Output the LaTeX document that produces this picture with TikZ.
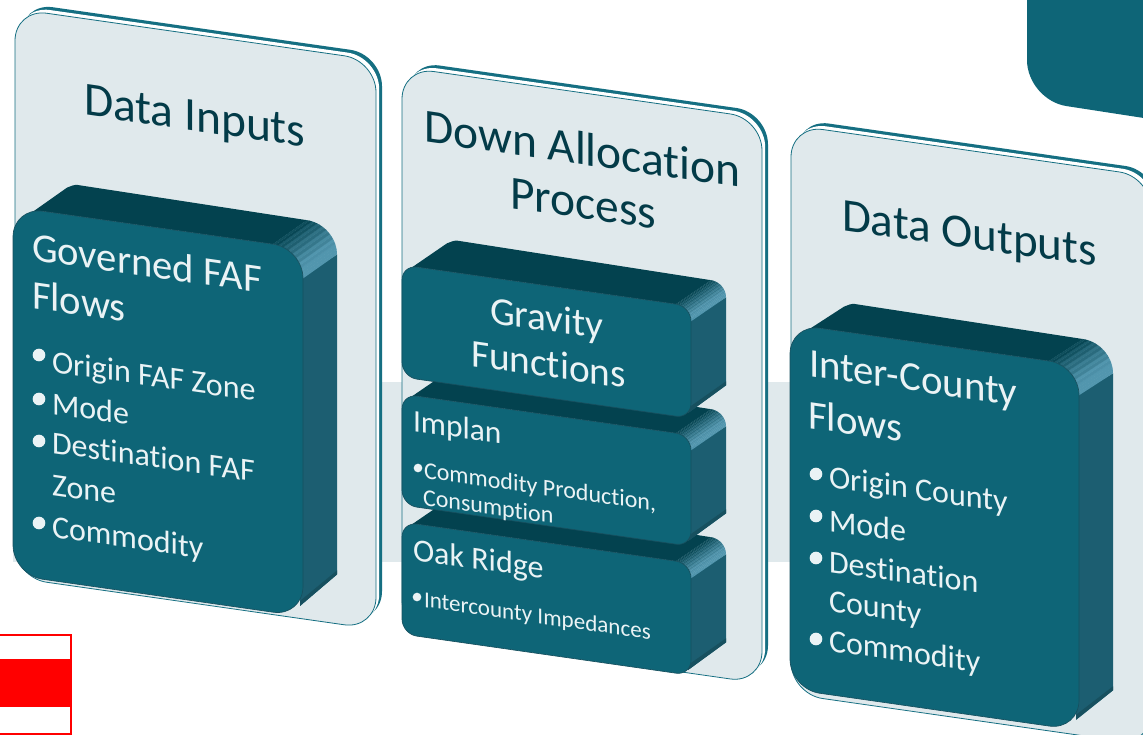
\documentclass[tikz,border=0pt]{standalone}
\usepackage{fontspec}
\setmainfont[Ligatures={NoCommon}]{Carlito}
\definecolor{front}{HTML}{0E6577}
\definecolor{topc}{HTML}{03424F}
\definecolor{sidec}{HTML}{1C5E71}
\definecolor{hl}{HTML}{5296AE}
\definecolor{lowc}{HTML}{17505F}
\definecolor{panelc}{HTML}{E0E9EC}
\definecolor{edgec}{HTML}{156F82}
\definecolor{inkc}{HTML}{033B48}
\definecolor{paper}{HTML}{EAF3F5}
\newcommand{\slopeS}{0.143}
% panel: L, T, R, H, r
\newcommand{\panelbox}[5]{%
  \pgfmathsetmacro\pTR{#2+\slopeS*(#3-#1)}%
  \pgfmathsetmacro\pBR{\pTR+#4}%
  \pgfmathsetmacro\pBL{#2+#4}%
  \pgfmathsetmacro\pRad{0.75*#5}%
  \fill[edgec,rounded corners=\pRad pt,shift={(6,-6)}] (#1,#2) -- (#3,\pTR) -- (#3,\pBR) -- (#1,\pBL) -- cycle;
  \fill[white,rounded corners=\pRad pt,shift={(3.2,-3.2)}] (#1,#2) -- (#3,\pTR) -- (#3,\pBR) -- (#1,\pBL) -- cycle;
  \draw[edgec,line width=0.6pt,fill=panelc,rounded corners=\pRad pt] (#1,#2) -- (#3,\pTR) -- (#3,\pBR) -- (#1,\pBL) -- cycle;
}
% card: L, T, R, H, dx, dy, r
\newcommand{\cardbox}[7]{%
  \pgfmathsetmacro\cTR{#2+\slopeS*(#3-#1)}%
  \pgfmathsetmacro\cBR{\cTR+#4}%
  \pgfmathsetmacro\cBL{#2+#4}%
  \pgfmathsetmacro\cRad{0.75*#7}%
  \pgfmathsetmacro\cPx{#1+0.67*#7}%
  \pgfmathsetmacro\cPy{#2+0.67*#7*\slopeS+0.057*#7}%
  \pgfmathsetmacro\cQx{#1+#7}%
  \pgfmathsetmacro\cQy{#2+#7*\slopeS}%
  \pgfmathsetmacro\cEx{#3-#7}%
  \pgfmathsetmacro\cEy{\cTR-#7*\slopeS}%
  \pgfmathsetmacro\cCy{\cEy+#7}%
  \pgfmathsetmacro\cRy{\cTR+#7}%
  \pgfmathsetmacro\cLowA{\cBR+#6-0.6*#7}%
  \pgfmathsetmacro\cLowB{\cBR-0.35*#7}%
  % right face
  \fill[sidec] (#3-3,\cRy) -- (#3+#5,\cRy+#6) -- (#3+#5,\cLowA) -- (#3-3,\cLowB) -- cycle;
  \fill[lowc] (#3+#5,\cLowA-4) -- (#3+#5,\cLowA) -- (#3-3,\cLowB) -- (#3-3,\cLowB-5) -- cycle;
  % top face
  \fill[topc] (\cQx,\cQy) -- (\cPx,\cPy) -- (\cPx+#5,\cPy+#6) [rounded corners=2pt] -- (\cPx+#5+8,\cPy+#6-3) [sharp corners] -- (\cEx+#5,\cEy+#6) -- (\cEx,\cEy) -- cycle;
  % corner bands
  \foreach \i in {0,...,17}{%
    \pgfmathsetmacro\tA{\i*5}%
    \pgfmathsetmacro\tB{\i*5+5.6}%
    \pgfmathsetmacro\ax{\cEx+#7*cos(\tA)}%
    \pgfmathsetmacro\ay{\cCy+#7*cos(\tA)*\slopeS-#7*sin(\tA)}%
    \pgfmathsetmacro\bx{\cEx+#7*cos(\tB)}%
    \pgfmathsetmacro\by{\cCy+#7*cos(\tB)*\slopeS-#7*sin(\tB)}%
    \pgfmathsetmacro\mixv{min(100,max(0,(90-\tA)/70*100+(mod(\i,2)-0.5)*16))}%
    \fill[hl!\mixv!topc] (\ax,\ay) -- (\bx,\by) -- (\bx+#5,\by+#6) -- (\ax+#5,\ay+#6) -- cycle;
  }
  % front face
  \draw[lowc,line width=0.5pt,fill=front,rounded corners=\cRad pt] (#1,#2) -- (#3,\cTR) -- (#3,\cBR) -- (#1,\cBL) -- cycle;
}
\tikzset{
  lab/.style={anchor=base west,inner sep=0pt,outer sep=0pt,yslant=-0.143},
  ink/.style={lab,text=inkc},
  wht/.style={lab,text=paper},
  dotmark/.style={circle,fill=paper,inner sep=0pt,minimum size=#1},
  dotmark/.default=9.5
}
\newcommand{\fpx}[1]{\fontsize{#1}{#1}\selectfont}
\begin{document}
\begin{tikzpicture}[x=0.75pt,y=-0.75pt]
\useasboundingbox (0,0) rectangle (1143,735);
\clip (0,0) rectangle (1143,735);
\fill[white] (0,0) rectangle (1143,735);
\fill[panelc] (13,382) rectangle (1143,562);
% top-right fragment
\fill[front] (1027,-20) [rounded corners=30pt] -- (1027,100) [sharp corners] -- (1160,120.5) -- (1160,-20) -- cycle;
% panels
\panelbox{15}{8.7}{376}{569}{32}
\panelbox{402}{67}{762}{565}{32}
\panelbox{791}{125}{1151}{569}{32}
% cards
\cardbox{13}{207}{303}{368}{34}{-24}{30}
\cardbox{402}{522}{691}{112}{35}{-24}{15}
\cardbox{402}{394}{691}{111}{35}{-24}{15}
\cardbox{402}{265}{691}{112}{35}{-24}{15}
\cardbox{790}{324}{1079}{365}{34}{-22}{30}
% red box
\draw[red,line width=1.5pt,fill=white] (-5,634.5) rectangle (71,733.5);
\fill[red] (-5,659) rectangle (71,707);
% headings
\node[ink,font=\fpx{35.6}] (t1) at (84,115) {Data Inputs};
\node[ink,font=\fpx{35.6}] (t2) at (424,142) {Down Allocation};
\node[ink,font=\fpx{35.6}] (t3) at (510,208) {Process};
\node[ink,font=\fpx{35.3}] (t4) at (842,230) {Data Outputs};
% card 1
\node[wht,font=\fpx{30.5}] (a0) at (32,260) {Governed FAF};
\node[wht,font=\fpx{30.5}] (a1) at (32,308) {Flows};
\node[wht,font=\fpx{24}] (a2) at (52,372) {Origin FAF Zone};
\node[wht,font=\fpx{24}] (a3) at (52,414) {Mode};
\node[wht,font=\fpx{24}] (a4) at (52,453) {Destination FAF};
\node[wht,font=\fpx{24}] (a5) at (52,495) {Zone};
\node[wht,font=\fpx{24}] (a6) at (52,537) {Commodity};
\node[dotmark] (ad1) at (39,355) {};
\node[dotmark] (ad2) at (39,399) {};
\node[dotmark] (ad3) at (39,441) {};
\node[dotmark] (ad4) at (39,523) {};
% middle cards
\node[wht,font=\fpx{29.5}] (b0) at (490,323) {Gravity};
\node[wht,font=\fpx{29.5}] (b1) at (471,366) {Functions};
\node[wht,font=\fpx{23.6}] (b2) at (413,431) {Implan};
\node[wht,font=\fpx{18}] (b3) at (424,478) {Commodity Production,};
\node[wht,font=\fpx{18}] (b4) at (423,505) {Consumption};
\node[dotmark=6.5] (bd1) at (418,468) {};
\node[wht,font=\fpx{24}] (b5) at (413,560) {Oak Ridge};
\node[wht,font=\fpx{17.3}] (b6) at (424,607) {Intercounty Impedances};
\node[dotmark=6.5] (bd2) at (417,597) {};
% card 3
\node[wht,font=\fpx{30.6}] (c0) at (809,376) {Inter-County};
\node[wht,font=\fpx{30.6}] (c1) at (808,428) {Flows};
\node[wht,font=\fpx{24}] (c2) at (829,487) {Origin County};
\node[wht,font=\fpx{24}] (c3) at (829,531) {Mode};
\node[wht,font=\fpx{24}] (c4) at (829,572) {Destination};
\node[wht,font=\fpx{24}] (c5) at (829,611) {County};
\node[wht,font=\fpx{24}] (c6) at (829,651) {Commodity};
\node[dotmark] (cd1) at (816,474) {};
\node[dotmark] (cd2) at (816,516) {};
\node[dotmark] (cd3) at (816,558) {};
\node[dotmark] (cd4) at (816,639) {};
\end{tikzpicture}
\end{document}
